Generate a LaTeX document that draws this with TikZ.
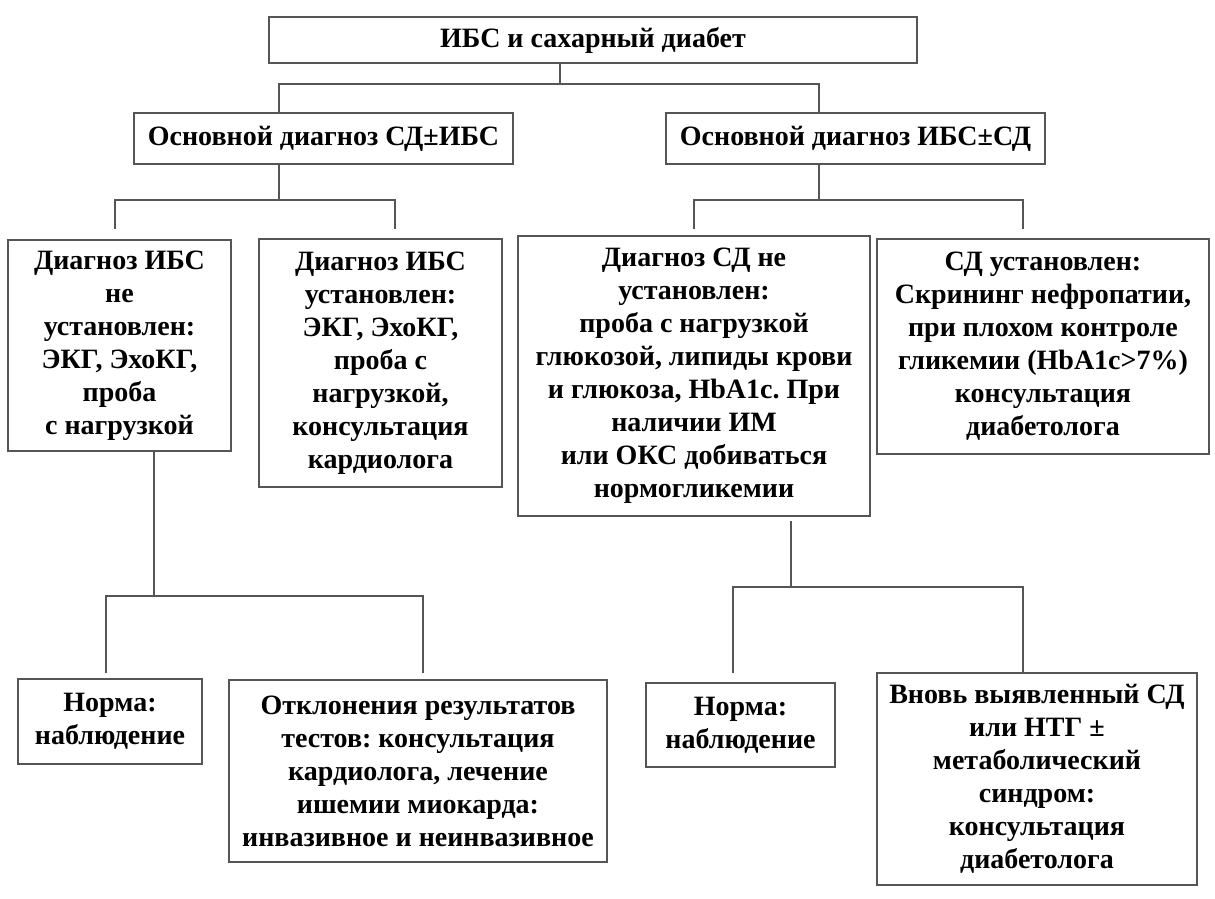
\documentclass[tikz,border=0pt]{standalone}
\usepackage{fontspec}
\setmainfont{Liberation Serif}
\definecolor{boxline}{HTML}{555555}
\frenchspacing
\begin{document}
\begin{tikzpicture}[x=0.5pt,y=-0.5pt,
  blk/.style={draw=boxline, line width=1pt, align=center, inner sep=0pt,
    text=black, font=\bfseries\fontsize{14}{16.5}\selectfont},
  link/.style={draw=boxline, line width=1pt}]
\fill[white] (0,0) rectangle (1215,899);
\useasboundingbox (0,0) rectangle (1215,899);

% boxes
\node[blk, minimum width=324pt, minimum height=23pt] (top) at (593,40) {ИБС и сахарный диабет};
\node[blk, minimum width=189.5pt, minimum height=25.5pt] (A) at (323.5,138.5) {Основной диагноз СД±ИБС};
\node[blk, minimum width=189.5pt, minimum height=25.5pt] (B) at (855.5,138.5) {Основной диагноз ИБС±СД};

\node[blk, minimum width=111.5pt, minimum height=105.5pt] (C) at (119.5,345.5)
  {Диагноз ИБС\\не\\установлен:\\ЭКГ, ЭхоКГ,\\проба\\с нагрузкой};
\node[blk, minimum width=121.5pt, minimum height=124pt] (D) at (380.5,363)
  {Диагноз ИБС\\установлен:\\ЭКГ, ЭхоКГ,\\проба с\\нагрузкой,\\консультация\\кардиолога};
\node[blk, minimum width=176pt, minimum height=140pt] (E) at (694,376)
  {Диагноз СД не\\установлен:\\проба с нагрузкой\\глюкозой, липиды крови\\и глюкоза, HbA1c. При\\наличии ИМ\\или ОКС добиваться\\нормогликемии};
\node[blk, minimum width=166pt, minimum height=107.5pt] (F) at (1043,346.5)
  {СД установлен:\\Скрининг нефропатии,\\при плохом контроле\\гликемии (HbA1c>7\%)\\консультация\\диабетолога};

\node[blk, minimum width=92pt, minimum height=42.5pt] (G) at (110,721.5)
  {Норма:\\наблюдение};
\node[blk, minimum width=189pt, minimum height=91pt] (H) at (418,771)
  {Отклонения результатов\\тестов: консультация\\кардиолога, лечение\\ишемии миокарда:\\инвазивное и неинвазивное};
\node[blk, minimum width=94.5pt, minimum height=42pt] (I) at (740.5,725)
  {Норма:\\наблюдение};
\node[blk, minimum width=160pt, minimum height=106pt] (J) at (1037,779)
  {Вновь выявленный СД\\или НТГ ±\\метаболический\\синдром:\\консультация\\диабетолога};

% junction points of the branching lines
\coordinate (k0) at (560,84);
\coordinate (k1) at (279,84);
\coordinate (k2) at (819,84);
\coordinate (m0) at (279,200);
\coordinate (m1) at (115,229);
\coordinate (m2) at (395,229);
\coordinate (n0) at (819,200);
\coordinate (n1) at (694,229);
\coordinate (n2) at (1023,229);
\coordinate (p0) at (154,596);
\coordinate (p1) at (106,673);
\coordinate (p2) at (423,673);
\coordinate (q0) at (791,587);
\coordinate (q1) at (733,673);
\coordinate (q2) at (1023,673);

% top level
\draw[link] (top.south -| k0) -- (k0);
\draw[link] (A.north -| k1) |- (k0) -| (B.north -| k2);
% second level
\draw[link] (A.south -| m0) -- (m0);
\draw[link] (m1) |- (m0) -| (m2);
\draw[link] (B.south -| n0) -- (n0);
\draw[link] (n1) |- (n0) -| (n2);
% third level
\draw[link] (C.south -| p0) -- (p0);
\draw[link] (p1) |- (p0) -| (p2);
\draw[link] ([yshift=-2pt]E.south -| q0) -- (q0);
\draw[link] (q1) |- (q0) -| (q2);
\end{tikzpicture}
\end{document}
